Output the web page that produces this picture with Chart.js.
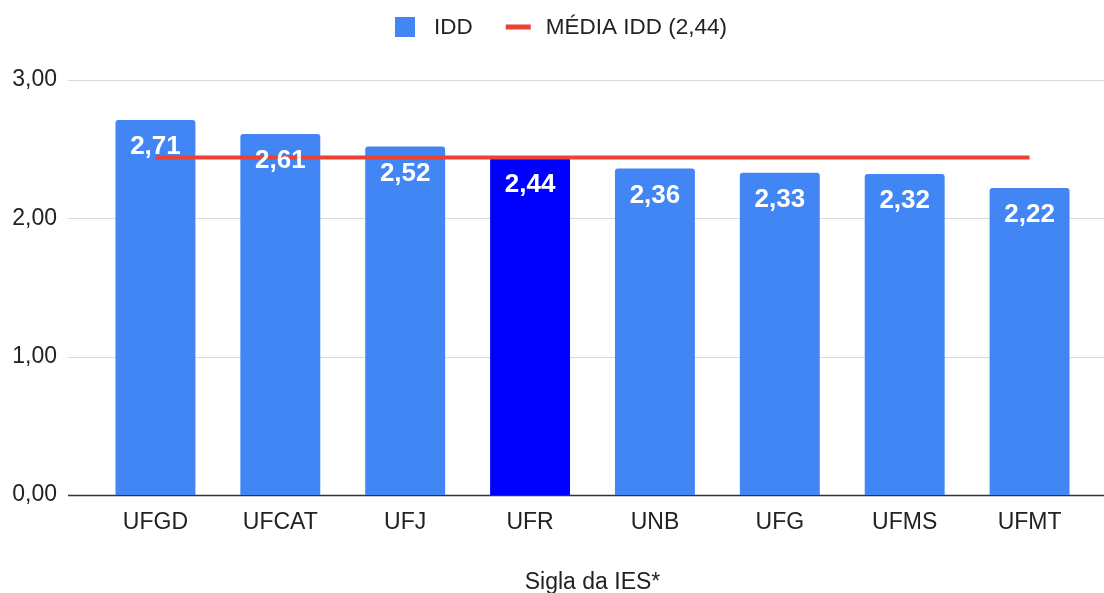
<!DOCTYPE html>
<html>
<head>
<meta charset="utf-8">
<script src="https://cdn.jsdelivr.net/npm/chart.js@4/dist/chart.umd.min.js"></script>
<style>
  html, body { margin: 0; padding: 0; background: #fff; }
  #wrap { width: 1104px; height: 593px; position: relative; }
</style>
</head>
<body>
<div id="wrap"><canvas id="iddChart"></canvas></div>
<script>
// data
const categories = ['UFGD', 'UFCAT', 'UFJ', 'UFR', 'UNB', 'UFG', 'UFMS', 'UFMT'];
const iddValues = [2.71, 2.61, 2.52, 2.44, 2.36, 2.33, 2.32, 2.22];
const mediaValues = [2.44, 2.44, 2.44, 2.44, 2.44, 2.44, 2.44, 2.44];
const yTicks = [0, 1, 2, 3];
const highlight = 'UFR';

const BLUE = '#4285f4';
const DEEP = '#0000ff';
const RED = '#ea4335';
const FONT = '"Liberation Sans", Arial, sans-serif';
const TEXT = '#222222';

const fmt = v => Number(v).toFixed(2).replace('.', ',');

// grid lines run wider than the category band, so draw them ourselves
const gridPlugin = {
    id: 'wideGrid',
    beforeDatasetsDraw(chart) {
        const y = chart.scales.y, ctx = chart.ctx;
        ctx.save();
        yTicks.forEach(t => {
            const py = Math.round(y.getPixelForValue(t)) + 0.5;
            ctx.strokeStyle = t === 0 ? '#333333' : '#d9d9d9';
            ctx.lineWidth = t === 0 ? 1.5 : 1;
            ctx.beginPath();
            ctx.moveTo(68, py);
            ctx.lineTo(chart.width, py);
            ctx.stroke();
        });
        ctx.restore();
    }
};

// white value labels inside the top of each bar
const valueLabels = {
    id: 'valueLabels',
    afterDatasetsDraw(chart) {
        const meta = chart.getDatasetMeta(0), ctx = chart.ctx;
        ctx.save();
        ctx.font = 'bold 26px ' + FONT;
        ctx.fillStyle = '#ffffff';
        ctx.textAlign = 'center';
        ctx.textBaseline = 'middle';
        meta.data.forEach((bar, i) => {
            ctx.fillText(fmt(iddValues[i]), bar.x, bar.y + 27);
        });
        ctx.restore();
    }
};

// legend: square for the bars, short thick line for the average
const legendPlugin = {
    id: 'miniLegend',
    afterDraw(chart) {
        const ctx = chart.ctx;
        const ds = chart.data.datasets;
        ctx.save();
        ctx.font = '22.5px ' + FONT;
        ctx.textBaseline = 'middle';
        ctx.fillStyle = TEXT;
        const w0 = ctx.measureText(ds[0].label).width;
        const w1 = ctx.measureText(ds[1].label).width;
        const total = 20 + 19 + w0 + 33 + 25 + 15 + w1;
        let x = chart.width / 2 + 9 - total / 2;
        const cy = 27;
        ctx.fillStyle = BLUE;
        ctx.fillRect(x, cy - 10, 20, 20);
        x += 20 + 19;
        ctx.fillStyle = TEXT;
        ctx.fillText(ds[0].label, x, cy + 1);
        x += w0 + 33;
        ctx.strokeStyle = RED;
        ctx.lineWidth = 5;
        ctx.beginPath();
        ctx.moveTo(x, cy);
        ctx.lineTo(x + 25, cy);
        ctx.stroke();
        x += 25 + 15;
        ctx.fillText(ds[1].label, x, cy + 1);
        ctx.restore();
    }
};

const ctx = document.getElementById('iddChart').getContext('2d');
new Chart(ctx, {
    data: {
        labels: categories,
        datasets: [
            {
                type: 'bar',
                label: 'IDD',
                data: iddValues,
                backgroundColor: categories.map(c => c === highlight ? DEEP : BLUE),
                borderRadius: { topLeft: 3, topRight: 3 },
                borderSkipped: 'bottom',
                barPercentage: 0.64,
                categoryPercentage: 1,
                order: 1
            },
            {
                type: 'line',
                label: 'MÉDIA IDD (2,44)',
                data: mediaValues,
                borderColor: RED,
                backgroundColor: RED,
                borderWidth: 4,
                pointRadius: 0,
                pointHoverRadius: 0,
                order: 0
            }
        ]
    },
    options: {
        responsive: true,
        maintainAspectRatio: false,
        animation: false,
        layout: { padding: { top: 0, right: 12, bottom: 0, left: 0 } },
        scales: {
            x: {
                grid: { display: false, drawTicks: false },
                border: { display: false },
                ticks: { color: TEXT, font: { family: FONT, size: 23 }, padding: 14 },
                title: { display: true, text: 'Sigla da IES*', color: TEXT, font: { family: FONT, size: 23 }, padding: { top: 0, bottom: -3 } },
                afterFit: s => { s.height = 98; }
            },
            y: {
                min: 0,
                max: 3,
                grid: { display: false, drawTicks: false },
                border: { display: false },
                ticks: { stepSize: 1, color: TEXT, font: { family: FONT, size: 23 }, padding: 36, callback: v => fmt(v) },
                afterFit: s => { s.width = 93; }
            }
        },
        plugins: {
            legend: { display: false },
            // empty title reserves the band where the legend is drawn
            title: { display: true, text: '', font: { size: 10, lineHeight: 1 }, padding: { top: 0, bottom: 70 } },
            tooltip: { enabled: false }
        }
    },
    plugins: [gridPlugin, valueLabels, legendPlugin]
});
</script>
</body>
</html>
